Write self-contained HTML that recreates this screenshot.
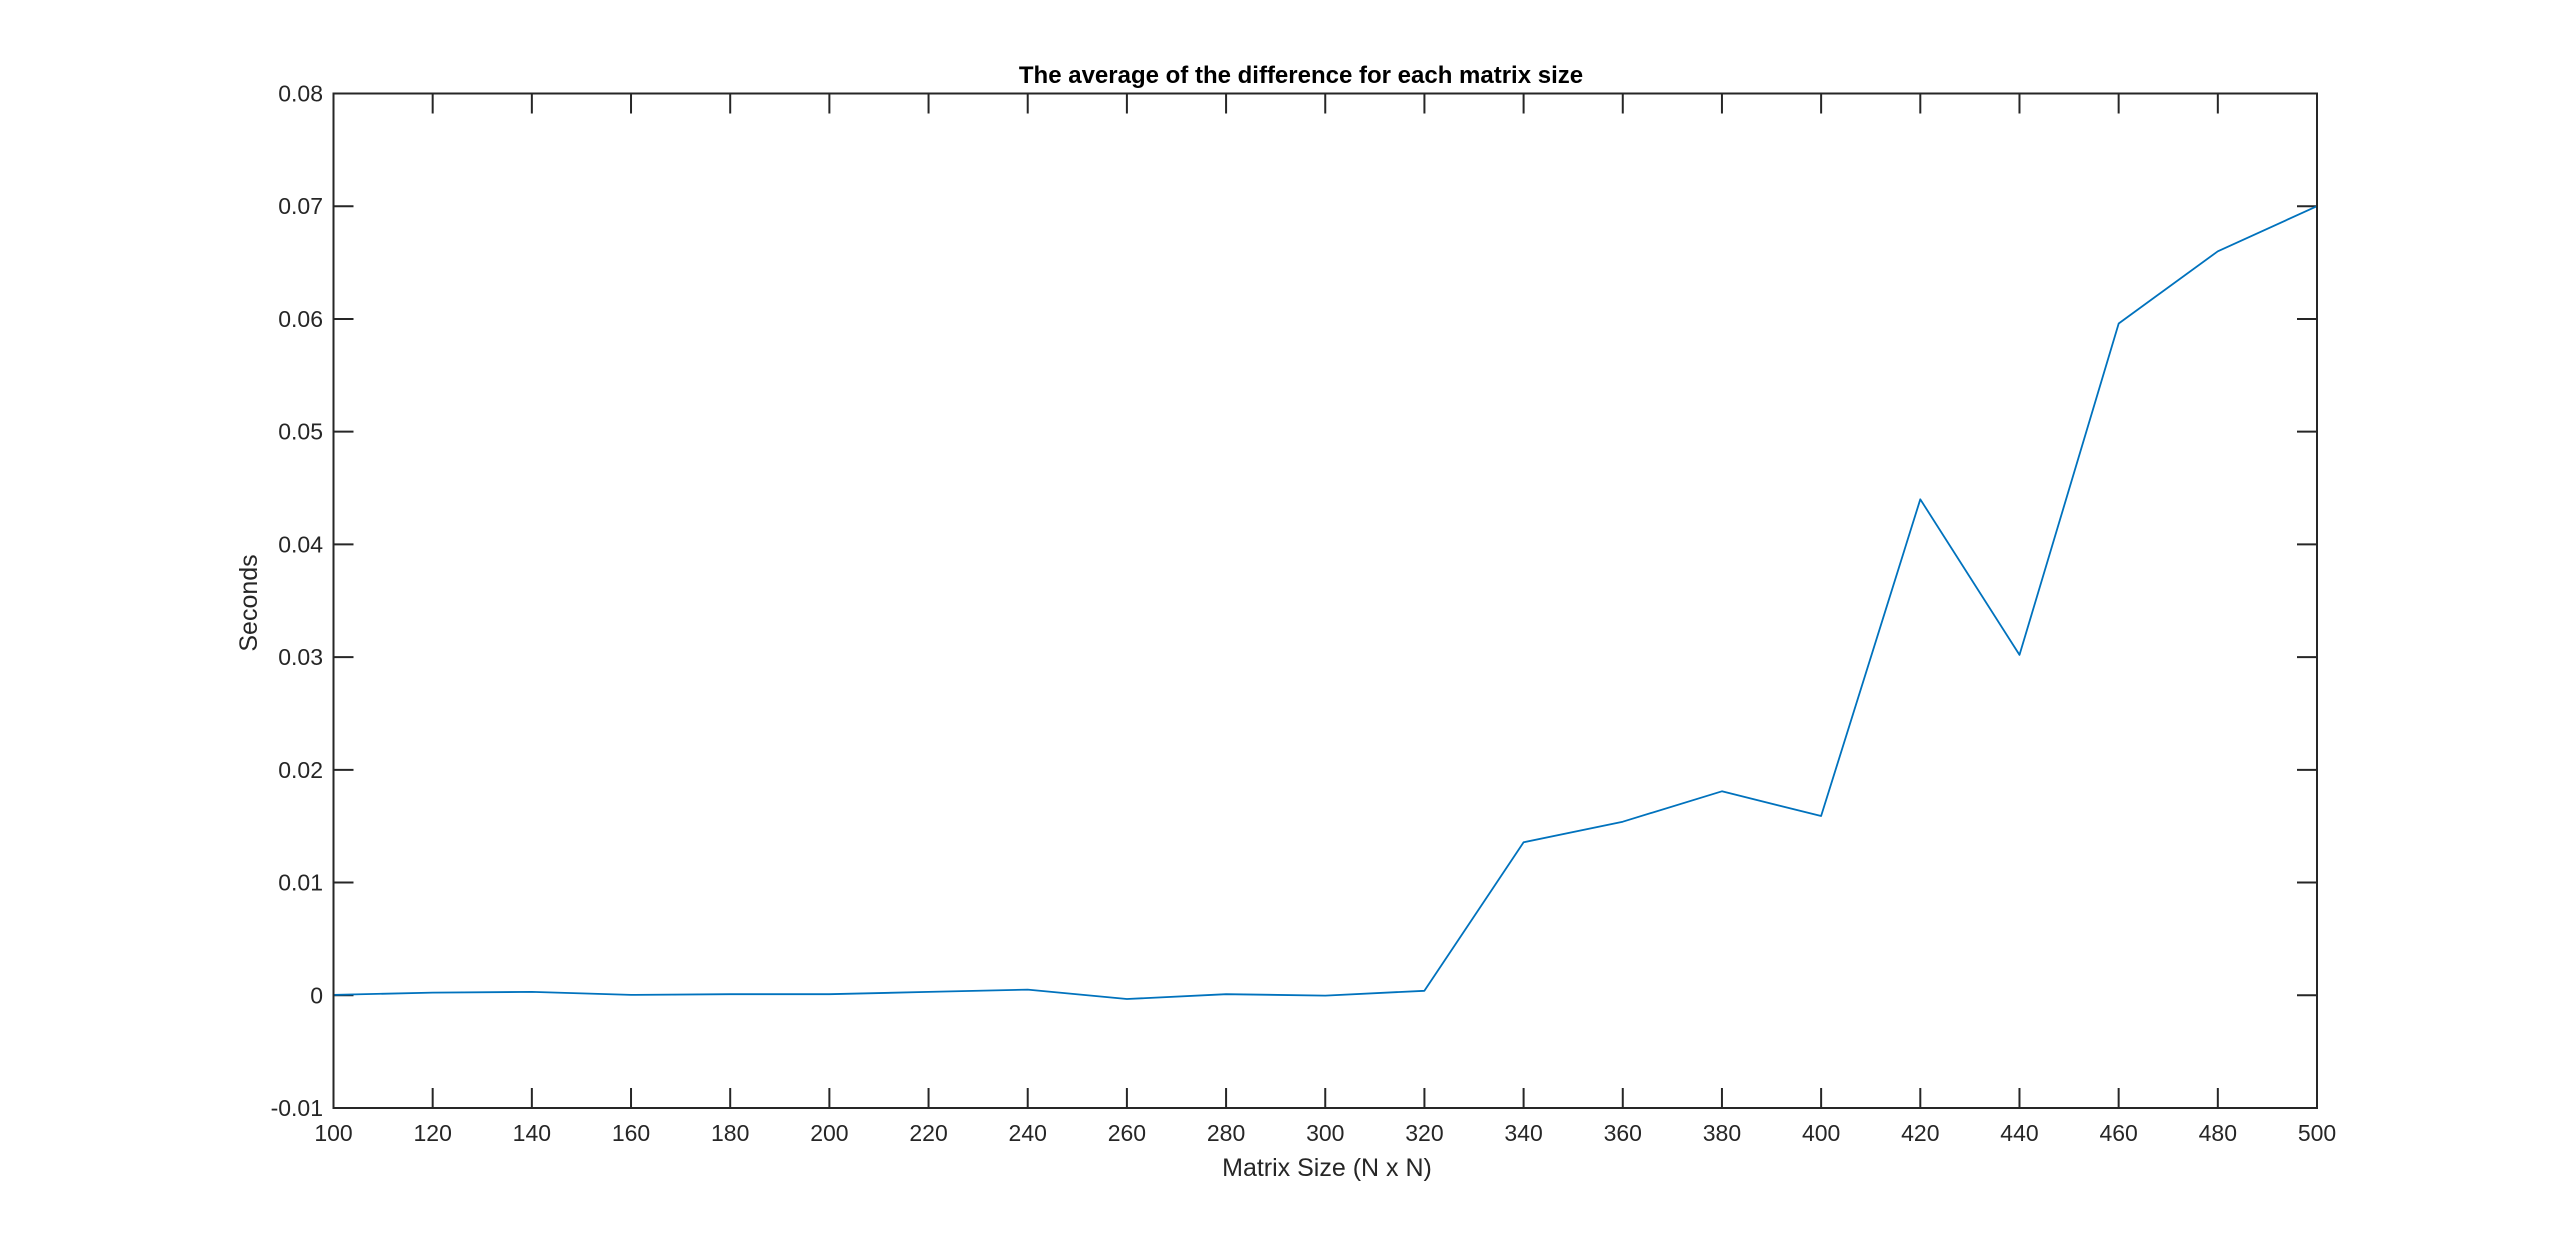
<!DOCTYPE html>
<html><head><meta charset="utf-8">
<style>
html,body{margin:0;padding:0;background:#fff;}
svg{display:block;}
text{font-family:"Liberation Sans",Arial,sans-serif;fill:#262626;}
</style></head>
<body>
<svg id="chart" width="2560" height="1245" viewBox="0 0 2560 1245" xmlns="http://www.w3.org/2000/svg">
<rect width="2560" height="1245" fill="#fff"/>
<text x="1301" y="83" text-anchor="middle" font-size="24" font-weight="bold" style="fill:#000">The average of the difference for each matrix size</text>
<text x="1327" y="1176" text-anchor="middle" font-size="25">Matrix Size (N x N)</text>
<text transform="translate(257,603) rotate(-90)" text-anchor="middle" font-size="25">Seconds</text>
<g id="ticks"></g>
<g id="series"></g>
<rect x="333.5" y="93.5" width="1983.5" height="1014.5" fill="none" stroke="#262626" stroke-width="2"/>
</svg>
<script>
const categories = [100,120,140,160,180,200,220,240,260,280,300,320,340,360,380,400,420,440,460,480,500];
const seriesValues = [0.00003,0.00024,0.0003,0.00003,0.0001,0.0001,0.0003,0.0005,-0.00033,0.0001,-0.00003,0.0004,0.01357,0.0154,0.0181,0.0159,0.0440,0.0302,0.0596,0.0660,0.0700];
const xTickLabels = [100,120,140,160,180,200,220,240,260,280,300,320,340,360,380,400,420,440,460,480,500];
const yTickLabels = ["-0.01","0","0.01","0.02","0.03","0.04","0.05","0.06","0.07","0.08"];

const L=333.5,R=2317,T=93.5,B=1108;
const xMin=100,xMax=500,yMin=-0.01,yMax=0.08;
function xScale(v){return L+(v-xMin)/(xMax-xMin)*(R-L);}
function yScale(v){return B-(v-yMin)/(yMax-yMin)*(B-T);}
const NS="http://www.w3.org/2000/svg";
const tg=document.getElementById('ticks');
function mk(tag,attrs,parent){const e=document.createElementNS(NS,tag);for(const k in attrs)e.setAttribute(k,attrs[k]);parent.appendChild(e);return e;}

xTickLabels.forEach(v=>{
  const x=xScale(v);
  const t1=mk('line',{x1:x,x2:x,y1:B,y2:B-20,stroke:'#262626','stroke-width':2},tg);
  
  
  const t2=mk('line',{x1:x,x2:x,y1:T,y2:T+20,stroke:'#262626','stroke-width':2},tg);
  
  
  const lb=mk('text',{x:x,y:1141,'text-anchor':'middle','font-size':23},tg);
  lb.textContent=v;
  
  
});
yTickLabels.forEach(s=>{
  const y=yScale(parseFloat(s));
  const t1=mk('line',{x1:L,x2:L+20,y1:y,y2:y,stroke:'#262626','stroke-width':2},tg);
  
  
  const t2=mk('line',{x1:R,x2:R-20,y1:y,y2:y,stroke:'#262626','stroke-width':2},tg);
  
  
  const lb=mk('text',{x:323,y:y+8,'text-anchor':'end','font-size':23},tg);
  lb.textContent=s;
  
  
});
const pts=categories.map((c,i)=>xScale(c).toFixed(1)+','+yScale(seriesValues[i]).toFixed(1)).join(' ');
const line=mk('polyline',{points:pts,fill:'none',stroke:'#0072bd','stroke-width':1.8,'stroke-linejoin':'round'},document.getElementById('series'));


</script>
</body></html>
